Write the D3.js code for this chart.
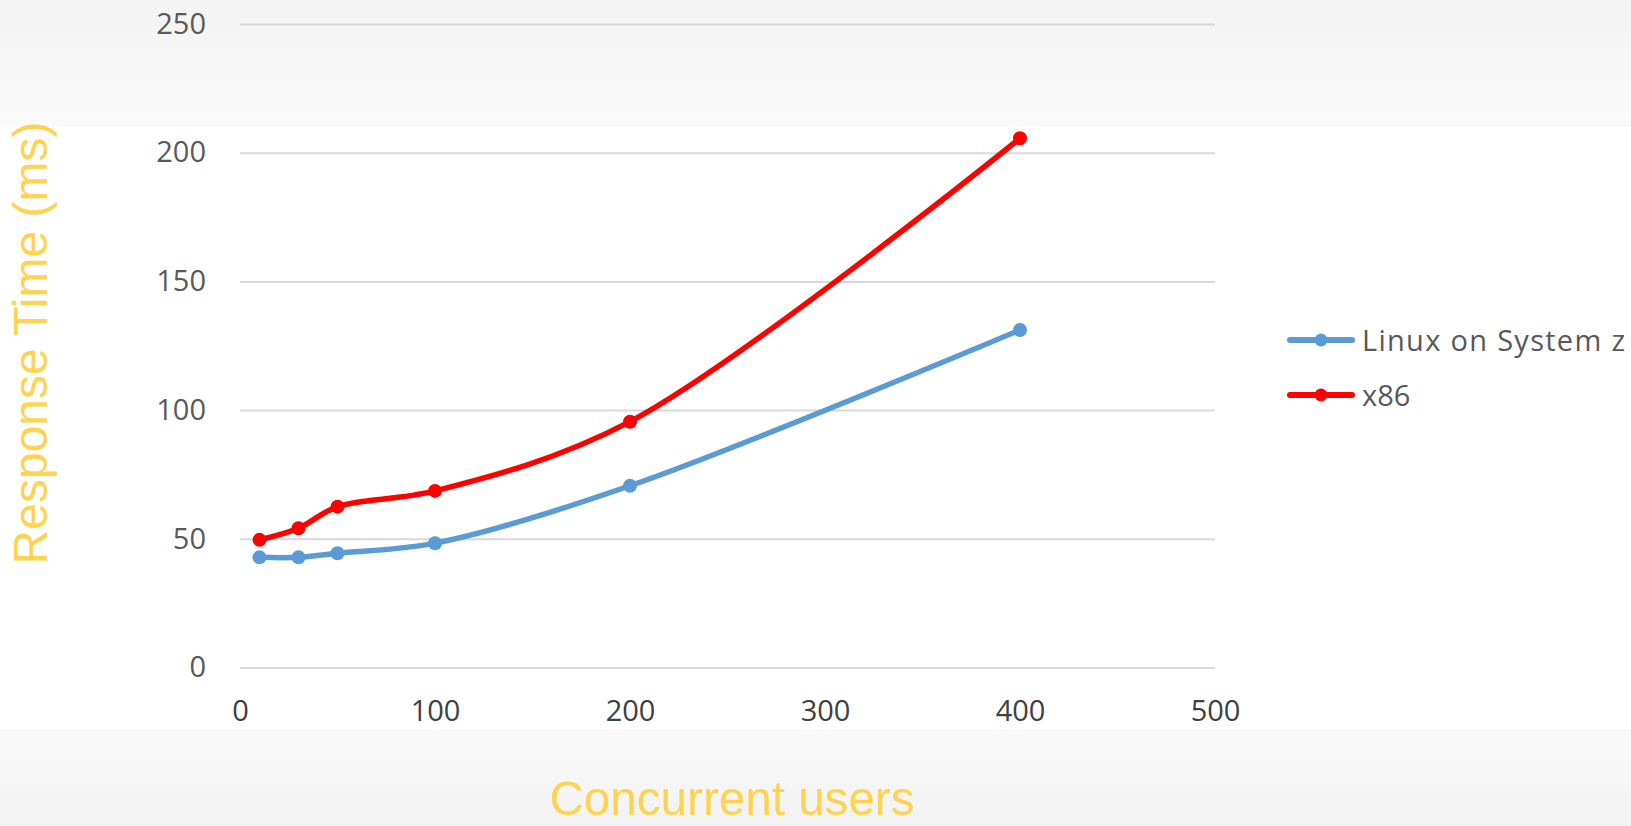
<!DOCTYPE html>
<html><head><meta charset="utf-8">
<script src="https://cdn.jsdelivr.net/npm/d3@7"></script>
<style>html,body{margin:0;padding:0;background:#fff;overflow:hidden}</style>
</head><body>
<svg id="chart" width="1631" height="826"></svg>
<script>
// ---- data ----
const users = [10, 30, 50, 100, 200, 400];
const linuxZ = [42.8, 42.8, 44.4, 48.3, 70.6, 131.1];
const x86 = [49.6, 54.1, 62.5, 68.6, 95.5, 205.6];
const seriesNames = ["Linux on System z", "x86"];
const xTicks = [0, 100, 200, 300, 400, 500];
const yTicks = [0, 50, 100, 150, 200, 250];
const xTitle = "Concurrent users";
const yTitle = "Response Time (ms)";

// ---- drawing ----
const colors = ["#5b9bd5", "#ff0000"];
const svg = d3.select("#chart");
const defs = svg.append("defs");
const g1 = defs.append("linearGradient").attr("id","topBand").attr("x1",0).attr("y1",0).attr("x2",0).attr("y2",1);
g1.append("stop").attr("offset","0%").attr("stop-color","#f3f3f3");
g1.append("stop").attr("offset","100%").attr("stop-color","#fafafa");
const g2 = defs.append("linearGradient").attr("id","botBand").attr("x1",0).attr("y1",0).attr("x2",0).attr("y2",1);
g2.append("stop").attr("offset","0%").attr("stop-color","#fafafa");
g2.append("stop").attr("offset","100%").attr("stop-color","#f2f2f2");

svg.append("rect").attr("x",0).attr("y",0).attr("width",1631).attr("height",826).attr("fill","#fff");
svg.append("rect").attr("x",0).attr("y",0).attr("width",1631).attr("height",127).attr("fill","url(#topBand)");
svg.append("rect").attr("x",0).attr("y",729).attr("width",1631).attr("height",97).attr("fill","url(#botBand)");

const x = d3.scaleLinear().domain([0, 500]).range([240, 1215]);
const y = d3.scaleLinear().domain([0, 250]).range([667.5, 24]);

// y axis with gridlines
const yAxis = svg.append("g").attr("transform","translate(240,0)")
  .call(d3.axisLeft(y).tickValues(yTicks).tickSize(-(1215-240)).tickPadding(34).tickFormat(d3.format("d")));
yAxis.select(".domain").remove();
yAxis.selectAll(".tick line").attr("stroke","#d9d9d9").attr("stroke-width",2);
yAxis.selectAll(".tick text").attr("font-family","'Open Sans', sans-serif").attr("font-size",29).attr("fill","#595959");

// x axis labels
const xAxis = svg.append("g").attr("transform","translate(0,667.5)")
  .call(d3.axisBottom(x).tickValues(xTicks).tickSize(0).tickPadding(32.5).tickFormat(d3.format("d")));
xAxis.select(".domain").remove();
xAxis.selectAll(".tick text").attr("font-family","'Open Sans', sans-serif").attr("font-size",29).attr("fill","#404040");

// series
const seriesData = [linuxZ, x86];
const line = d3.line().x((d,i)=>x(users[i])).y(d=>y(d)).curve(d3.curveCatmullRom.alpha(0.5));
seriesData.forEach((vals, si) => {
  svg.append("path").datum(vals).attr("d", line).attr("fill","none")
    .attr("stroke", colors[si]).attr("stroke-width", 5.5).attr("stroke-linejoin","round");
  svg.append("g").selectAll("circle").data(vals).join("circle")
    .attr("cx",(d,i)=>x(users[i])).attr("cy",d=>y(d)).attr("r",7).attr("fill",colors[si]);
});

// legend
const legend = svg.append("g");
seriesNames.forEach((name, i) => {
  const ly = 340 + i*55;
  legend.append("line").attr("x1",1290).attr("x2",1352).attr("y1",ly).attr("y2",ly)
    .attr("stroke",colors[i]).attr("stroke-width",6).attr("stroke-linecap","round");
  legend.append("circle").attr("cx",1321).attr("cy",ly).attr("r",6.5).attr("fill",colors[i]);
  const t = legend.append("text").attr("x",1362).attr("y",ly+11)
    .attr("font-family","'Open Sans', sans-serif").attr("font-size",29).attr("fill","#595959").text(name);
  if (i === 0) t.attr("textLength",263).attr("lengthAdjust","spacing");
});

// axis titles
svg.append("text").attr("x",732).attr("y",815).attr("text-anchor","middle")
  .attr("font-family","'Liberation Sans', Arial, sans-serif").attr("font-size",49)
  .attr("textLength",365).attr("lengthAdjust","spacingAndGlyphs")
  .attr("fill","#ffd34f").text(xTitle);
svg.append("text").attr("transform","translate(47,343) rotate(-90)").attr("text-anchor","middle")
  .attr("font-family","'Liberation Sans', Arial, sans-serif").attr("font-size",48)
  .attr("fill","#ffd34f").text(yTitle);
</script>
</body></html>
